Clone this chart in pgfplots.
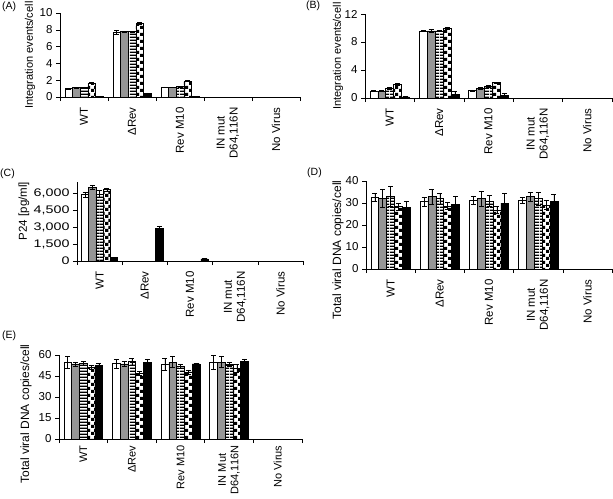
\documentclass[border=0pt]{standalone}
\usepackage{fontspec}
\setmainfont{Liberation Sans}
\newfontfamily\widefont{Liberation Sans}[FakeStretch=1.3]
\usepackage{pgfplots}
\pgfplotsset{compat=1.18}
\usetikzlibrary{patterns}
\definecolor{bargray}{RGB}{150,150,150}
\pgfdeclarepatternformonly{hstripes}{\pgfqpoint{0pt}{0pt}}{\pgfqpoint{10pt}{3.4pt}}{\pgfqpoint{10pt}{3.4pt}}{\pgfpathrectangle{\pgfqpoint{0pt}{0pt}}{\pgfqpoint{10pt}{1.7pt}}\pgfusepath{fill}}
\pgfdeclarepatternformonly{checker}{\pgfqpoint{0pt}{0pt}}{\pgfqpoint{7pt}{7pt}}{\pgfqpoint{7pt}{7pt}}{\pgfpathrectangle{\pgfqpoint{0pt}{0pt}}{\pgfqpoint{3.5pt}{3.5pt}}\pgfpathrectangle{\pgfqpoint{3.5pt}{3.5pt}}{\pgfqpoint{3.5pt}{3.5pt}}\pgfusepath{fill}}
\pgfplotsset{
  panel/.style={
    scale only axis, ybar=0pt, bar width=0.16,
    xmin=-0.5, xmax=4.5, ymin=0,
    axis x line*=bottom, axis y line*=left,
    axis line style={black, line width=0.6pt},
    tick align=outside, major tick length=4pt,
    tick style={black, line width=0.6pt},
    xtick={-0.5,0.5,1.5,2.5,3.5,4.5},
    xticklabels={},
    extra x ticks={0,1,2,3,4},
    extra x tick style={major tick length=0pt, xticklabel shift=7pt, x tick label style={rotate=90, anchor=east, align=center}},
    every tick label/.append style={font=\fontsize{11.5}{13}\selectfont},
    /pgf/number format/assume math mode=true,
    scaled y ticks=false,
    every axis y label/.style={rotate=90, anchor=center, font=\fontsize{11.5}{13}\selectfont},
    error bars/y dir=both, error bars/y explicit,
    error bars/error bar style={black, line width=0.6pt},
    error bars/error mark options={rotate=90, mark size=2.5pt, line width=0.6pt, black},
  },
  s1/.style={draw=black, fill=white, line width=0.6pt},
  s2/.style={draw=black, fill=bargray, line width=0.6pt},
  s3/.style={draw=black, pattern=hstripes, pattern color=black, line width=0.6pt},
  s4/.style={draw=black, pattern=checker, pattern color=black, line width=0.6pt},
  s5/.style={draw=black, fill=black, line width=0.6pt},
}
\begin{document}
\begin{tikzpicture}
\path[use as bounding box] (0,0) rectangle (613pt,-498pt);
\tikzset{plabel/.style={anchor=north west, inner sep=0pt, font=\fontsize{10.5}{12}\selectfont}}
\node[plabel] at (2pt,-2pt) {(A)};
\node[plabel] at (306pt,-1pt) {(B)};
\node[plabel] at (0pt,-169pt) {(C)};
\node[plabel] at (307pt,-168pt) {(D)};
\node[plabel] at (2pt,-331pt) {(E)};

% (A)
\begin{axis}[panel, at={(60pt,-97pt)}, anchor=south west, width=240pt, height=84pt,
  ymax=10, ytick={0,2,4,6,8,10},
  extra x tick labels={WT,ΔRev,Rev M10,{IN mut\\D64,116N},No Virus},
  ylabel={Integration events/cell},
  ylabel style={font=\fontsize{11}{12}\selectfont, at={(axis description cs:-0.125,0.50)}}]
\addplot[s1] coordinates {(0,1.0) +- (0,0.05) (1,7.7) +- (0,0.2) (2,1.15) +- (0,0.05)};
\addplot[s2] coordinates {(0,1.1) +- (0,0.05) (1,7.8) +- (0,0.05) (2,1.15) +- (0,0.05)};
\addplot[s3] coordinates {(0,1.15) +- (0,0.05) (1,7.8) +- (0,0.05) (2,1.25) +- (0,0.05)};
\addplot[s4] coordinates {(0,1.65) +- (0,0.05) (1,8.8) +- (0,0.1) (2,1.9) +- (0,0.08)};
\addplot[s5] coordinates {(0,0.08) +- (0,0.02) (1,0.45) +- (0,0.05) (2,0.08) +- (0,0.02)};
\end{axis}

% (B)
\begin{axis}[panel, at={(365pt,-98pt)}, anchor=south west, width=247pt, height=84pt,
  ymax=12, ytick={0,4,8,12},
  extra x tick labels={WT,ΔRev,Rev M10,{IN mut\\D64,116N},No Virus},
  ylabel={Integration events/cell},
  ylabel style={font=\fontsize{11}{12}\selectfont, at={(axis description cs:-0.109,0.50)}}]
\addplot[s1] coordinates {(0,1.0) +- (0,0.03) (1,9.6) +- (0,0.08) (2,1.05) +- (0,0.1)};
\addplot[s2] coordinates {(0,1.0) +- (0,0.03) (1,9.6) +- (0,0.15) (2,1.35) +- (0,0.15)};
\addplot[s3] coordinates {(0,1.4) +- (0,0.1) (1,9.6) +- (0,0.05) (2,1.65) +- (0,0.1)};
\addplot[s4] coordinates {(0,1.95) +- (0,0.08) (1,10.0) +- (0,0.15) (2,2.2) +- (0,0.08)};
\addplot[s5] coordinates {(0,0.15) +- (0,0.03) (1,0.5) +- (0,0.4) (2,0.35) +- (0,0.35)};
\end{axis}

% (C)
\begin{axis}[panel, at={(77pt,-261pt)}, anchor=south west, width=226pt, height=79.3pt,
  ymax=7000, ytick={0,1500,3000,4500,6000},
  /pgf/number format/1000 sep={,},
  y tick label style={font=\widefont\fontsize{11}{12}\selectfont},
  extra x tick labels={WT,ΔRev,Rev M10,{IN mut\\D64,116N},No Virus},
  ylabel={P24 [pg/ml]},
  ylabel style={at={(axis description cs:-0.235,0.63)}}]
\addplot[s1] coordinates {(0,5850) +- (0,200)};
\addplot[s2] coordinates {(0,6500) +- (0,200)};
\addplot[s3] coordinates {(0,5900) +- (0,300)};
\addplot[s4] coordinates {(0,6300) +- (0,150)};
\addplot[s5] coordinates {(0,300) +- (0,50) (1,2850) +- (0,250) (2,180) +- (0,40)};
\end{axis}

% (D)
\begin{axis}[panel, at={(366pt,-269pt)}, anchor=south west, width=246pt, height=88pt,
  ymax=40, ytick={0,10,20,30,40},
  extra x tick labels={WT,ΔRev,Rev M10,{IN mut\\D64,116N},No Virus},
  ylabel={Total viral DNA copies/cell},
  ylabel style={font=\fontsize{12}{13}\selectfont, at={(axis description cs:-0.114,0.216)}}]
\addplot[s1] coordinates {(0,32.6) +- (0,2) (1,30.6) +- (0,2) (2,31.2) +- (0,2) (3,31.2) +- (0,1.5)};
\addplot[s2] coordinates {(0,32.1) +- (0,4) (1,32.9) +- (0,3.5) (2,32.0) +- (0,3.5) (3,32.9) +- (0,2)};
\addplot[s3] coordinates {(0,32.9) +- (0,4.5) (1,32.0) +- (0,2.5) (2,30.9) +- (0,2.5) (3,32.0) +- (0,3)};
\addplot[s4] coordinates {(0,28.3) +- (0,1.5) (1,28.6) +- (0,1.5) (2,26.8) +- (0,1.5) (3,29.1) +- (0,2)};
\addplot[s5] coordinates {(0,27.9) +- (0,3) (1,29.5) +- (0,3.5) (2,30.0) +- (0,4.5) (3,30.9) +- (0,3)};
\end{axis}

% (E)
\begin{axis}[panel, at={(59pt,-439pt)}, anchor=south west, width=243pt, height=84pt,
  ymax=60, ytick={0,15,30,45,60},
  extra x tick labels={WT,ΔRev,Rev M10,{IN Mut\\D64,116N},No Virus},
  extra x tick style={xticklabel shift=3pt, x tick label style={font=\fontsize{11}{12.5}\selectfont}},
  ylabel={Total viral DNA copies/cell},
  ylabel style={font=\fontsize{12}{13}\selectfont, at={(axis description cs:-0.136,0.298)}}]
\addplot[s1] coordinates {(0,54.7) +- (0,4.5) (1,53.8) +- (0,3) (2,53.3) +- (0,4) (3,54.7) +- (0,5)};
\addplot[s2] coordinates {(0,53.6) +- (0,1.5) (1,53.6) +- (0,2) (2,55.0) +- (0,4) (3,55.0) +- (0,4)};
\addplot[s3] coordinates {(0,54.0) +- (0,1.5) (1,55.2) +- (0,2.5) (2,52.1) +- (0,1.5) (3,53.3) +- (0,1.5)};
\addplot[s4] coordinates {(0,51.0) +- (0,1.5) (1,47.0) +- (0,1.5) (2,47.9) +- (0,1.5) (3,50.5) +- (0,3)};
\addplot[s5] coordinates {(0,52.8) +- (0,1) (1,54.7) +- (0,2.5) (2,53.6) +- (0,0.5) (3,55.2) +- (0,2)};
\end{axis}
\end{tikzpicture}
\end{document}
